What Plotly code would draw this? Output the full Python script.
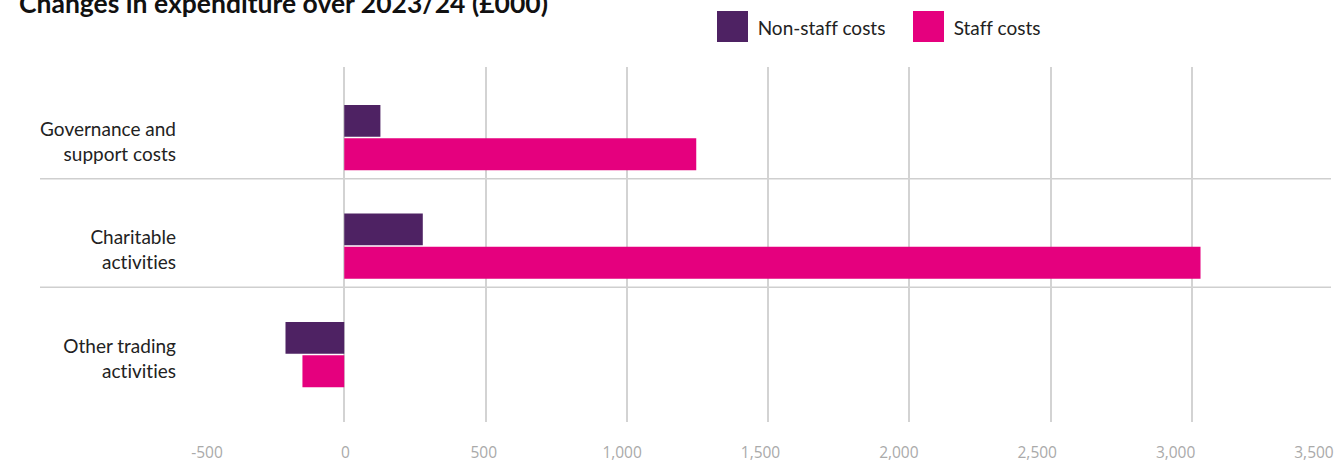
import plotly.graph_objects as go

categories = ["Governance and<br>support costs", "Charitable<br>activities", "Other trading<br>activities"]
non_staff = [128, 278, -208]
staff = [1246, 3031, -148]
x_ticks = [-500, 0, 500, 1000, 1500, 2000, 2500, 3000, 3500]
x_tick_labels = ["-500", "0", "500", "1,000", "1,500", "2,000", "2,500", "3,000", "3,500"]
series_names = ["Non-staff costs", "Staff costs"]
colors = ["#4E2263", "#E5007E"]
title = "Changes in expenditure over 2023/24 (£000)"

fig = go.Figure()
fig.add_trace(go.Bar(y=categories, x=non_staff, orientation="h", name=series_names[0],
                     marker=dict(color=colors[0], line=dict(width=0))))
fig.add_trace(go.Bar(y=categories, x=staff, orientation="h", name=series_names[1],
                     marker=dict(color=colors[1], line=dict(width=0))))

W, H = 1334, 461
L, R, T, B = 203, 0, 67, 39
pw = W - L - R
ph = H - T - B

def px_to_paper_x(px):
    return (px - L) / pw

def px_to_paper_y(py):
    return (H - B - py) / ph

shapes = []
for yv in [0.38, 1.38]:
    shapes.append(dict(type="line", xref="paper", yref="y", x0=px_to_paper_x(40), x1=px_to_paper_x(1331),
                       y0=yv, y1=yv, line=dict(color="#cfcfcf", width=1.5), layer="below"))

annotations = [dict(text="<b>" + title + "</b>", xref="paper", yref="paper",
                    x=px_to_paper_x(17), y=px_to_paper_y(3), xanchor="left", yanchor="middle",
                    showarrow=False, font=dict(family="Lato", size=26.5, color="#111111"))]

# custom legend
leg = [(717, series_names[0], colors[0]), (913, series_names[1], colors[1])]
for x0, name, c in leg:
    shapes.append(dict(type="rect", xref="paper", yref="paper",
                       x0=px_to_paper_x(x0), x1=px_to_paper_x(x0 + 31),
                       y0=px_to_paper_y(42), y1=px_to_paper_y(11),
                       fillcolor=c, line=dict(width=0)))
    annotations.append(dict(text=name, xref="paper", yref="paper", x=px_to_paper_x(x0 + 39),
                            y=px_to_paper_y(28), xanchor="left", yanchor="middle", showarrow=False,
                            font=dict(family="Lato", size=19, color="#222222")))

# invisible trace to activate the label axis
fig.add_trace(go.Scatter(x=[x_ticks[0]], y=[categories[0]], xaxis="x2", mode="markers",
                         marker=dict(opacity=0), hoverinfo="skip", showlegend=False))

fig.update_layout(
    width=W, height=H,
    margin=dict(l=L, r=R, t=T, b=B, pad=0),
    plot_bgcolor="white", paper_bgcolor="white",
    barmode="group", bargap=0.383, bargroupgap=0.05,
    showlegend=False,
    shapes=shapes, annotations=annotations,
    xaxis=dict(range=[-500, 3503.5], tickvals=x_ticks, showticklabels=False,
               showgrid=True, gridcolor="#d3d3d3", gridwidth=1.5, zeroline=False,
               showline=False, ticks="", automargin=False),
    xaxis2=dict(overlaying="x", side="bottom", range=[-514.45, 3572.3],
                tickvals=x_ticks, ticktext=x_tick_labels, showgrid=False, zeroline=False,
                showline=False, ticks="", ticklabelstandoff=19, ticklabeloverflow="allow",
                automargin=False,
                tickfont=dict(family="Open Sans", size=15.5, color="#aaaaaa")),
    yaxis=dict(range=[2.622, -0.65], showgrid=False, zeroline=False, showline=False,
               ticks="", ticklabelstandoff=26, ticklabelshift=-4, automargin=False,
               tickfont=dict(family="Lato", size=19, color="#222222")),
    font=dict(family="Lato"),
)

post = ("document.body.style.margin='0';"
        "var s=document.createElement('style');"
        "s.textContent='text{font-variant-ligatures:none !important;}';"
        "document.head.appendChild(s);")
fig.write_html("out.html", post_script=post, config={"displayModeBar": False})
